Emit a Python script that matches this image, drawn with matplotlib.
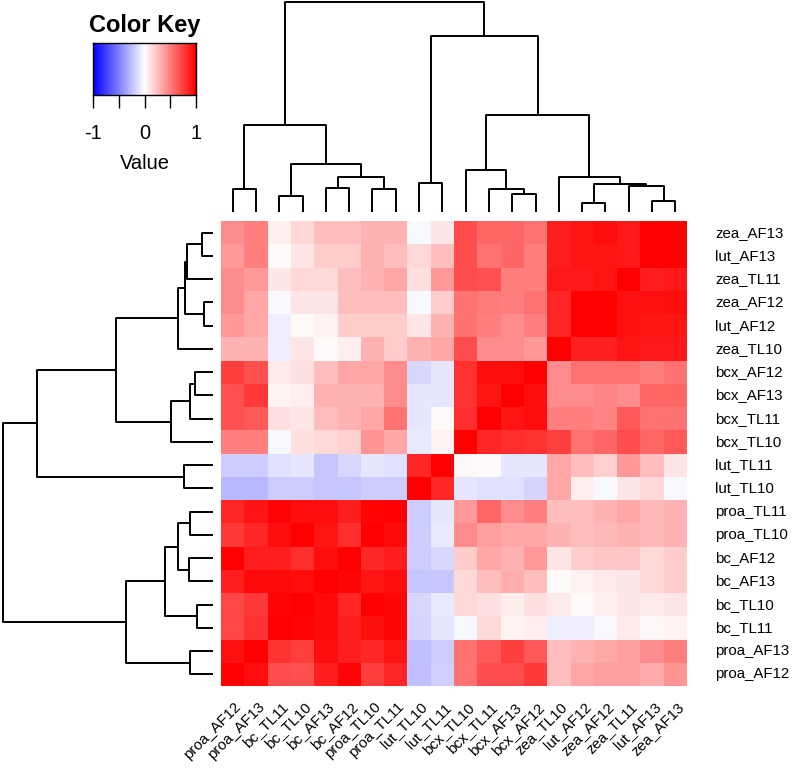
import numpy as np
import matplotlib
matplotlib.use("Agg")
import matplotlib.pyplot as plt
from matplotlib.colors import LinearSegmentedColormap

plt.rcParams['font.family'] = ['Liberation Sans', 'DejaVu Sans']

# row labels, top to bottom
row_labels = ["zea_AF13", "lut_AF13", "zea_TL11", "zea_AF12", "lut_AF12", "zea_TL10",
              "bcx_AF12", "bcx_AF13", "bcx_TL11", "bcx_TL10", "lut_TL11", "lut_TL10",
              "proa_TL11", "proa_TL10", "bc_AF12", "bc_AF13", "bc_TL10", "bc_TL11",
              "proa_AF13", "proa_AF12"]
# column labels, left to right
col_labels = ["proa_AF12", "proa_AF13", "bc_TL11", "bc_TL10", "bc_AF13", "bc_AF12",
              "proa_TL10", "proa_TL11", "lut_TL10", "lut_TL11", "bcx_TL10", "bcx_TL11",
              "bcx_AF13", "bcx_AF12", "zea_TL10", "lut_AF12", "zea_AF12", "zea_TL11",
              "lut_AF13", "zea_AF13"]

# correlation values (rows top->bottom, cols left->right)
values = [
    [0.45, 0.50, 0.07, 0.15, 0.25, 0.25, 0.30, 0.30, -0.03, 0.10, 0.70, 0.60, 0.60, 0.55, 0.88, 0.92, 0.95, 0.90, 1.00, 1.00],
    [0.40, 0.50, 0.02, 0.10, 0.20, 0.20, 0.30, 0.25, 0.15, 0.25, 0.70, 0.55, 0.60, 0.50, 0.88, 0.92, 0.92, 0.90, 1.00, 1.00],
    [0.45, 0.40, 0.10, 0.15, 0.15, 0.25, 0.30, 0.35, 0.12, 0.40, 0.70, 0.68, 0.50, 0.50, 0.90, 0.90, 0.92, 1.00, 0.88, 0.90],
    [0.45, 0.35, -0.03, 0.10, 0.10, 0.25, 0.25, 0.25, -0.03, 0.20, 0.55, 0.52, 0.50, 0.55, 0.85, 1.00, 1.00, 0.93, 0.93, 0.95],
    [0.40, 0.35, -0.07, 0.02, 0.05, 0.20, 0.20, 0.20, 0.10, 0.30, 0.55, 0.50, 0.45, 0.50, 0.85, 1.00, 1.00, 0.93, 0.92, 0.92],
    [0.30, 0.30, -0.07, 0.10, 0.02, 0.07, 0.30, 0.20, 0.30, 0.35, 0.70, 0.45, 0.45, 0.40, 1.00, 0.87, 0.87, 0.92, 0.90, 0.90],
    [0.75, 0.68, 0.08, 0.12, 0.25, 0.35, 0.35, 0.45, -0.15, -0.10, 0.80, 0.95, 0.95, 1.00, 0.45, 0.55, 0.55, 0.55, 0.50, 0.55],
    [0.68, 0.78, 0.04, 0.07, 0.30, 0.30, 0.30, 0.45, -0.10, -0.10, 0.80, 0.92, 1.00, 0.95, 0.45, 0.45, 0.48, 0.45, 0.60, 0.60],
    [0.68, 0.65, 0.12, 0.10, 0.25, 0.30, 0.35, 0.55, -0.10, 0.02, 0.82, 1.00, 0.92, 0.95, 0.50, 0.50, 0.48, 0.65, 0.55, 0.55],
    [0.50, 0.50, -0.03, 0.12, 0.15, 0.18, 0.42, 0.35, -0.08, 0.05, 1.00, 0.85, 0.82, 0.80, 0.75, 0.55, 0.60, 0.70, 0.60, 0.65],
    [-0.20, -0.20, -0.12, -0.10, -0.22, -0.15, -0.10, -0.12, 0.85, 1.00, 0.03, 0.02, -0.10, -0.10, 0.35, 0.25, 0.18, 0.40, 0.25, 0.10],
    [-0.28, -0.28, -0.20, -0.20, -0.22, -0.22, -0.20, -0.20, 1.00, 0.85, -0.10, -0.12, -0.12, -0.17, 0.35, 0.07, -0.03, 0.10, 0.15, -0.03],
    [0.85, 0.92, 0.98, 0.95, 0.95, 0.88, 0.98, 1.00, -0.20, -0.10, 0.40, 0.60, 0.45, 0.50, 0.25, 0.25, 0.30, 0.35, 0.28, 0.30],
    [0.78, 0.85, 0.95, 1.00, 0.92, 0.82, 1.00, 0.96, -0.20, -0.08, 0.45, 0.38, 0.35, 0.35, 0.30, 0.25, 0.28, 0.30, 0.28, 0.30],
    [1.00, 0.88, 0.88, 0.82, 0.95, 1.00, 0.85, 0.88, -0.20, -0.15, 0.20, 0.35, 0.30, 0.40, 0.10, 0.20, 0.22, 0.22, 0.15, 0.20],
    [0.88, 0.96, 0.96, 0.95, 1.00, 0.97, 0.92, 0.95, -0.22, -0.22, 0.15, 0.25, 0.32, 0.25, 0.02, 0.05, 0.08, 0.10, 0.15, 0.20],
    [0.72, 0.78, 0.98, 1.00, 0.96, 0.85, 1.00, 0.97, -0.15, -0.08, 0.15, 0.12, 0.07, 0.12, 0.08, 0.02, 0.07, 0.10, 0.08, 0.10],
    [0.72, 0.80, 1.00, 0.98, 0.96, 0.88, 0.94, 0.97, -0.17, -0.10, -0.03, 0.15, 0.05, 0.07, -0.07, -0.07, -0.03, 0.08, 0.03, 0.05],
    [0.93, 1.00, 0.80, 0.75, 0.95, 0.88, 0.85, 0.92, -0.25, -0.20, 0.55, 0.65, 0.75, 0.65, 0.25, 0.30, 0.35, 0.38, 0.45, 0.50],
    [1.00, 0.95, 0.70, 0.68, 0.88, 0.98, 0.75, 0.85, -0.25, -0.18, 0.55, 0.70, 0.70, 0.78, 0.25, 0.35, 0.38, 0.38, 0.33, 0.42],
]

# dendrogram: (left, right, height), heights relative to the root
tree = (
    (("proa_AF12", "proa_AF13", 0.110),
     (("bc_TL11", "bc_TL10", 0.076),
      (("bc_AF13", "bc_AF12", 0.116), ("proa_TL10", "proa_TL11", 0.108), 0.167),
      0.229),
     0.416),
    (("lut_TL10", "lut_TL11", 0.140),
     (("bcx_TL10", ("bcx_TL11", ("bcx_AF13", "bcx_AF12", 0.086), 0.110), 0.200),
      ("zea_TL10",
       (("lut_AF12", "zea_AF12", 0.043),
        ("zea_TL11", ("lut_AF13", "zea_AF13", 0.051), 0.125),
        0.133),
       0.165),
      0.462),
     0.838),
    1.0)

key_ticks = [-1, -0.5, 0, 0.5, 1]
key_ticklabels = ["-1", "", "0", "", "1"]

cmap = LinearSegmentedColormap.from_list("bluered", ["#0000FF", "#FFFFFF", "#FF0000"], N=256)

W, H = 800, 773
fig = plt.figure(figsize=(W / 100, H / 100), dpi=100)


def fig_rect(x0, y0, x1, y1):
    # pixel box (top-left origin) -> figure fraction rect
    return [x0 / W, 1 - y1 / H, (x1 - x0) / W, (y1 - y0) / H]


hm_x0, hm_y0, hm_x1, hm_y1 = 221, 221, 687, 686

# heatmap
ax = fig.add_axes(fig_rect(hm_x0, hm_y0, hm_x1, hm_y1))
data = np.array(values)
ax.pcolormesh(np.arange(21), np.arange(21), data, cmap=cmap, vmin=-1, vmax=1)
ax.set_xlim(0, 20)
ax.set_ylim(20, 0)
for s in ax.spines.values():
    s.set_visible(False)
ax.set_xticks([])
ax.set_yticks([])
for i, lab in enumerate(row_labels):
    ax.text(20 + 1.2, i + 0.5, lab, ha="left", va="center", fontsize=10.8)
for j, lab in enumerate(col_labels):
    ax.text(j + 0.55, 20.6, lab, ha="right", va="top", rotation=45,
            rotation_mode="anchor", fontsize=10.8)


def draw_tree(ax, node, pos, vertical):
    # returns (leaf-axis position, height) of the node
    if isinstance(node, str):
        return pos[node], 0.0
    pl, hl = draw_tree(ax, node[0], pos, vertical)
    pr, hr = draw_tree(ax, node[1], pos, vertical)
    h = node[2]
    if vertical:
        ax.plot([pl, pl, pr, pr], [hl, h, h, hr], color="black", lw=1.4,
                solid_capstyle="butt", clip_on=False)
    else:
        ax.plot([hl, h, h, hr], [pl, pl, pr, pr], color="black", lw=1.4,
                solid_capstyle="butt", clip_on=False)
    return (pl + pr) / 2, h


# column dendrogram
axc = fig.add_axes(fig_rect(hm_x0, 2, hm_x1, 212))
draw_tree(axc, tree, {n: i + 0.5 for i, n in enumerate(col_labels)}, True)
axc.set_xlim(0, 20)
axc.set_ylim(0, 1)
axc.axis("off")

# row dendrogram
axr = fig.add_axes(fig_rect(3, hm_y0, 213, hm_y1))
draw_tree(axr, tree, {n: i + 0.5 for i, n in enumerate(row_labels)}, False)
axr.set_ylim(20, 0)
axr.set_xlim(1, 0)
axr.axis("off")

# color key
axk = fig.add_axes(fig_rect(93, 43, 196, 95))
grad = np.linspace(-1, 1, 256).reshape(1, -1)
axk.imshow(grad, cmap=cmap, vmin=-1, vmax=1, aspect="auto", extent=[-1, 1, 0, 1])
axk.set_xlim(-1, 1)
axk.set_yticks([])
axk.set_xticks(key_ticks)
axk.set_xticklabels(key_ticklabels, fontsize=14.5)
axk.tick_params(axis="x", length=9, width=1, pad=12)
axk.set_xlabel("Value", fontsize=14.5, labelpad=8)
axk.set_title("Color Key", fontsize=17, fontweight="bold", pad=8)
for s in axk.spines.values():
    s.set_linewidth(1)

fig.savefig("out.png", dpi=100)
